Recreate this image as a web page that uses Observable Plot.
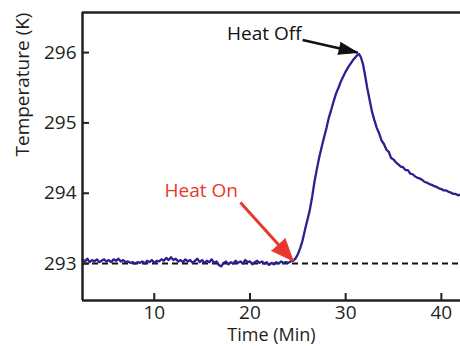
<!DOCTYPE html>
<html>
<head>
<meta charset="utf-8">
<script src="https://cdn.jsdelivr.net/npm/d3@7"></script>
<script src="https://cdn.jsdelivr.net/npm/@observablehq/plot@0.6"></script>
<style>
  html, body { margin: 0; padding: 0; background: #fff; }
  #chart svg { display: block; }
</style>
</head>
<body>
<div id="chart"></div>
<script>
// ---- data ----
const timeMin = [
  2.5, 2.75, 3.0, 3.25, 3.5, 3.75, 4.0, 4.25, 4.5, 4.75, 5.0, 5.25, 5.5, 5.75, 6.0, 6.25, 6.5, 6.75, 7.0, 7.25,
  7.5, 7.75, 8.0, 8.25, 8.5, 8.75, 9.0, 9.25, 9.5, 9.75, 10.0, 10.25, 10.5, 10.75, 11.0, 11.25, 11.5, 11.75, 12.0, 12.25,
  12.5, 12.75, 13.0, 13.25, 13.5, 13.75, 14.0, 14.25, 14.5, 14.75, 15.0, 15.25, 15.5, 15.75, 16.0, 16.25, 16.5, 16.75, 17.0, 17.25,
  17.5, 17.75, 18.0, 18.25, 18.5, 18.75, 19.0, 19.25, 19.5, 19.75, 20.0, 20.25, 20.5, 20.75, 21.0, 21.25, 21.5, 21.75, 22.0, 22.25,
  22.5, 22.75, 23.0, 23.25, 23.5, 23.75, 24.0, 24.25,
  24.5, 24.75, 25.0, 25.25, 25.5, 25.75, 26.0, 26.25, 26.5, 26.75, 27.0, 27.25, 27.5, 27.75, 28.0, 28.25, 28.5, 28.75, 29.0, 29.25,
  29.5, 29.75, 30.0, 30.25, 30.5, 30.75, 31.0, 31.25, 31.4, 31.6, 31.8, 32.0, 32.25, 32.5, 32.75, 33.0, 33.25, 33.5, 33.75, 34.0,
  34.25, 34.5, 34.75, 35.0, 35.25, 35.5, 35.75, 36.0, 36.25, 36.5, 36.75, 37.0, 37.25, 37.5, 37.75, 38.0, 38.25, 38.5, 38.75, 39.0,
  39.25, 39.5, 39.75, 40.0, 40.25, 40.5, 40.75, 41.0, 41.25, 41.5, 41.75, 42.0
];
const temperatureK = [
  293.06, 293.03, 293.07, 293.02, 293.05, 293.03, 293.06, 293.02, 293.04, 293.06, 293.03, 293.05, 293.02, 293.06, 293.04, 293.07, 293.03, 293.05, 293.02, 293.03,
  293.01, 293.02, 293.00, 293.02, 293.01, 293.03, 293.00, 293.04, 293.02, 293.05, 293.01, 293.04, 293.03, 293.06, 293.04, 293.08, 293.05, 293.09, 293.05, 293.07,
  293.03, 293.05, 293.02, 293.06, 293.03, 293.05, 293.01, 293.04, 293.07, 293.02, 293.05, 293.01, 293.04, 293.02, 293.06, 293.01, 293.03, 292.98, 292.96, 293.01,
  293.03, 292.99, 293.02, 293.00, 293.04, 293.01, 293.03, 293.00, 293.05, 293.02, 293.03, 292.99, 293.02, 293.04, 293.01, 293.03, 293.00, 293.02, 292.98, 293.01,
  292.99, 293.02, 293.00, 293.03, 293.01, 293.02, 293.01, 293.03,
  293.04, 293.07, 293.13, 293.22, 293.33, 293.48, 293.62, 293.76, 293.95, 294.17, 294.35, 294.52, 294.66, 294.80, 294.93, 295.08, 295.19, 295.31, 295.42, 295.50,
  295.59, 295.66, 295.73, 295.79, 295.84, 295.89, 295.93, 295.97, 295.98, 295.93, 295.84, 295.70, 295.50, 295.33, 295.16, 295.04, 294.93, 294.85, 294.75, 294.70,
  294.62, 294.59, 294.50, 294.48, 294.44, 294.41, 294.38, 294.37, 294.33, 294.33, 294.28, 294.27, 294.24, 294.22, 294.21, 294.19, 294.16, 294.15, 294.13, 294.12,
  294.10, 294.09, 294.07, 294.06, 294.04, 294.04, 294.02, 294.01, 293.99, 293.99, 293.97, 293.98
];
const xTicks = [10, 20, 30, 40];
const yTicks = [293, 294, 295, 296];
const xDomain = [2.5, 42];
const yDomain = [292.475, 296.57];
const referenceTemp = [293];

const annotLabels = ["Heat On", "Heat Off"];
const annotTextX = [14.9, 21.5];
const annotTextY = [294.04, 296.27];
const arrowFromX = [19.0, 25.5];
const arrowFromY = [293.87, 296.18];
const arrowToX = [24.5, 31.25];
const arrowToY = [293.04, 296.0];
const annotColors = ["#e8382d", "#111111"];

// ---- build ----
const W = 460, H = 346;
const M = {left: 82, right: 0, top: 12, bottom: 46};
const series = timeMin.map((t, i) => ({t, v: temperatureK[i]}));
const annots = annotLabels.map((label, i) => ({
  label, tx: annotTextX[i], ty: annotTextY[i],
  x1: arrowFromX[i], y1: arrowFromY[i], x2: arrowToX[i], y2: arrowToY[i],
  color: annotColors[i], big: i === 0
}));
// pixel mapping for arrow-head orientation (derived from the scales' domain/range)
const sx = d3.scaleLinear(xDomain, [M.left, W - M.right]);
const sy = d3.scaleLinear(yDomain, [H - M.bottom, M.top]);
annots.forEach(a => {
  const dx = sx(a.x2) - sx(a.x1), dy = sy(a.y2) - sy(a.y1);
  a.angle = Math.atan2(dx, -dy) * 180 / Math.PI;
});

const ink = "#231f20";
const font = "'Open Sans', 'DejaVu Sans', sans-serif";
const fs = 19;

const chart = Plot.plot({
  width: W, height: H,
  marginLeft: M.left, marginRight: M.right, marginTop: M.top, marginBottom: M.bottom,
  style: {fontFamily: font, fontSize: fs + "px", color: ink, background: "#fff", overflow: "visible"},
  x: {domain: xDomain, label: null},
  y: {domain: yDomain, label: null},
  marks: [
    Plot.ruleY(referenceTemp, {stroke: "#111", strokeWidth: 2, strokeDasharray: "6,4"}),
    Plot.line(series, {x: "t", y: "v", stroke: "#2b2190", strokeWidth: 2.3, strokeLinejoin: "round"}),
    // frame (left, bottom, top)
    Plot.ruleX([xDomain[0]], {stroke: ink, strokeWidth: 2.5}),
    Plot.ruleY([yDomain[0], yDomain[1]], {stroke: ink, strokeWidth: 2.5}),
    Plot.axisX(xTicks, {tickSize: -7, tickPadding: 12, strokeWidth: 2, stroke: ink, fontSize: fs, fill: ink, label: null, tickFormat: d3.format("d")}),
    Plot.axisY(yTicks, {tickSize: -7, tickPadding: 13, strokeWidth: 2, stroke: ink, fontSize: fs, fill: ink, label: null, tickFormat: d3.format("d")}),
    Plot.text(["Time (Min)"], {frameAnchor: "bottom", dy: 35, lineAnchor: "middle", fontSize: 18, fill: ink}),
    Plot.text(["Temperature (K)"], {frameAnchor: "left", dx: -60, rotate: -90, fontSize: fs, fill: ink}),
    // annotations
    Plot.link(annots, {x1: "x1", y1: "y1", x2: "x2", y2: "y2", stroke: "color", strokeWidth: d => d.big ? 3 : 2.5}),
    Plot.vector(annots.filter(a => a.big), {x: "x2", y: "y2", rotate: "angle", anchor: "end", shape: "spike", length: 22, r: 9, fill: "color", stroke: "color", strokeWidth: 1}),
    Plot.vector(annots.filter(a => !a.big), {x: "x2", y: "y2", rotate: "angle", anchor: "end", shape: "spike", length: 19, r: 6, fill: "color", stroke: "color", strokeWidth: 1}),
    Plot.text(annots, {x: "tx", y: "ty", text: "label", fill: "color", fontSize: fs})
  ]
});
document.getElementById("chart").appendChild(chart);
</script>
</body>
</html>
